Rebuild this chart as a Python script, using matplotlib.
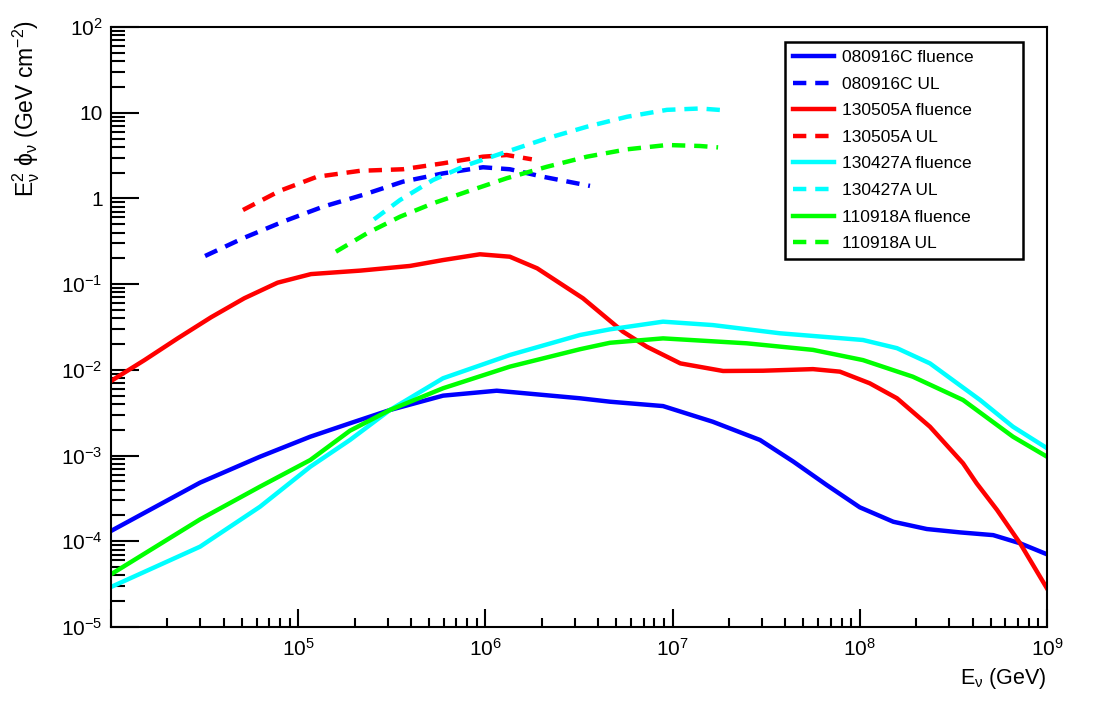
import math
import matplotlib
matplotlib.use("Agg")
import matplotlib.pyplot as plt
from matplotlib.ticker import LogLocator, FuncFormatter, NullFormatter

plt.rcParams['font.family'] = ['Liberation Sans', 'DejaVu Sans']
plt.rcParams['mathtext.fontset'] = 'custom'
plt.rcParams['mathtext.rm'] = 'Liberation Sans'
plt.rcParams['mathtext.it'] = 'Liberation Sans'
plt.rcParams['mathtext.default'] = 'regular'

# 080916C
e_080916c = [1.0e4, 2.99e4, 6.25e4, 1.16e5, 1.89e5, 3.09e5, 5.94e5, 1.15e6, 3.20e6, 4.63e6, 8.89e6,
             1.64e7, 2.93e7, 4.42e7, 6.65e7, 1.0e8, 1.51e8, 2.28e8, 3.43e8, 5.16e8, 7.18e8, 1.0e9]
f_080916c = [1.32e-4, 4.83e-4, 9.70e-4, 1.66e-3, 2.38e-3, 3.40e-3, 5.00e-3, 5.71e-3, 4.66e-3, 4.25e-3, 3.78e-3,
             2.48e-3, 1.52e-3, 8.49e-4, 4.54e-4, 2.49e-4, 1.69e-4, 1.39e-4, 1.27e-4, 1.18e-4, 9.48e-5, 7.05e-5]
e_080916c_ul = [3.18e4, 5.07e4, 8.30e4, 1.36e5, 2.22e5, 3.63e5, 5.94e5, 9.70e5, 1.35e6, 2.03e6, 3.62e6]
u_080916c = [0.213, 0.343, 0.536, 0.802, 1.10, 1.57, 1.96, 2.31, 2.19, 1.79, 1.40]

# 130505A
e_130505a = [1.0e4, 1.51e4, 2.27e4, 3.42e4, 5.15e4, 7.76e4, 1.17e5, 2.16e5, 3.95e5, 5.94e5, 9.35e5, 1.35e6,
             1.89e6, 3.32e6, 5.43e6, 7.29e6, 1.10e7, 1.86e7, 3.04e7, 5.62e7, 7.83e7, 1.13e8,
             1.58e8, 2.37e8, 3.56e8, 4.21e8, 5.41e8, 7.18e8, 1.0e9]
f_130505a = [7.41e-3, 1.30e-2, 2.33e-2, 4.10e-2, 6.84e-2, 0.104, 0.131, 0.144, 0.163, 0.191, 0.223, 0.209,
             0.153, 6.84e-2, 2.79e-2, 1.86e-2, 1.19e-2, 9.70e-3, 9.77e-3, 1.02e-2, 9.53e-3, 6.97e-3,
             4.66e-3, 2.17e-3, 8.13e-4, 4.74e-4, 2.32e-4, 9.48e-5, 2.82e-5]
e_130505a_ul = [5.07e4, 8.00e4, 1.26e5, 2.14e5, 3.63e5, 5.94e5, 9.70e5, 1.30e6, 1.77e6]
u_130505a = [0.733, 1.23, 1.79, 2.10, 2.19, 2.57, 3.07, 3.21, 2.86]

# 130427A
e_130427a = [1.0e4, 2.99e4, 6.25e4, 1.16e5, 1.89e5, 3.09e5, 5.94e5, 1.35e6, 3.20e6, 4.63e6, 8.89e6,
             1.64e7, 3.75e7, 1.04e8, 1.58e8, 2.37e8, 4.39e8, 6.58e8, 1.0e9]
f_130427a = [2.93e-5, 8.65e-5, 2.53e-4, 7.41e-4, 1.52e-3, 3.40e-3, 7.98e-3, 1.49e-2, 2.55e-2, 2.97e-2, 3.65e-2,
             3.33e-2, 2.67e-2, 2.23e-2, 1.79e-2, 1.19e-2, 4.45e-3, 2.17e-3, 1.22e-3]
e_130427a_ul = [2.54e5, 3.50e5, 5.25e5, 7.98e5, 1.30e6, 2.13e6, 3.49e6, 5.71e6, 9.33e6, 1.40e7, 1.98e7]
u_130427a = [0.570, 0.959, 1.64, 2.45, 3.51, 5.02, 6.87, 8.97, 10.8, 11.2, 10.6]

# 110918A
e_110918a = [1.0e4, 2.99e4, 6.25e4, 1.16e5, 1.89e5, 3.09e5, 5.94e5, 1.35e6, 3.20e6, 4.63e6, 8.89e6,
             2.49e7, 5.62e7, 1.04e8, 1.92e8, 3.56e8, 6.58e8, 1.0e9]
f_110918a = [4.12e-5, 1.80e-4, 4.34e-4, 8.87e-4, 1.95e-3, 3.40e-3, 6.10e-3, 1.09e-2, 1.74e-2, 2.07e-2, 2.33e-2,
             2.04e-2, 1.71e-2, 1.30e-2, 8.32e-3, 4.45e-3, 1.66e-3, 9.70e-4]
e_110918a_ul = [1.59e5, 2.33e5, 3.50e5, 5.25e5, 7.98e5, 1.30e6, 2.13e6, 3.49e6, 5.71e6, 9.33e6, 1.40e7, 1.75e7]
u_110918a = [0.239, 0.392, 0.612, 0.877, 1.20, 1.72, 2.34, 3.07, 3.74, 4.20, 4.09, 3.94]

grbs = ['080916C', '130505A', '130427A', '110918A']
colors = ['#0000ff', '#ff0000', '#00ffff', '#00ff00']
fluence = [(e_080916c, f_080916c), (e_130505a, f_130505a), (e_130427a, f_130427a), (e_110918a, f_110918a)]
upper = [(e_080916c_ul, u_080916c), (e_130505a_ul, u_130505a), (e_130427a_ul, u_130427a), (e_110918a_ul, u_110918a)]

fig = plt.figure(figsize=(11.02, 7.28), dpi=100)
ax = fig.add_axes([111 / 1102, 1 - 627 / 728, 936 / 1102, 600 / 728])

for name, c, (e, f), (eu, u) in zip(grbs, colors, fluence, upper):
    ax.plot(e, f, color=c, lw=3.2, solid_joinstyle='round', label=name + ' fluence')
    ax.plot(eu, u, color=c, lw=3.2, dashes=(3, 2), dash_capstyle='butt', label=name + ' UL')

ax.set_xscale('log')
ax.set_yscale('log')
ax.set_xlim(1e4, 1e9)
ax.set_ylim(1e-5, 1e2)


def root_fmt(v, pos):
    n = int(round(math.log10(v)))
    if n == 0:
        return '1'
    if n == 1:
        return '10'
    return '$10^{%d}$' % n


def x_fmt(v, pos):
    if v < 1.5e4:
        return ''
    return root_fmt(v, pos)


ax.xaxis.set_major_locator(LogLocator(base=10, numticks=20))
ax.yaxis.set_major_locator(LogLocator(base=10, numticks=20))
ax.xaxis.set_minor_locator(LogLocator(base=10, subs=range(2, 10), numticks=20))
ax.yaxis.set_minor_locator(LogLocator(base=10, subs=range(2, 10), numticks=20))
ax.xaxis.set_major_formatter(FuncFormatter(x_fmt))
ax.yaxis.set_major_formatter(FuncFormatter(root_fmt))
ax.xaxis.set_minor_formatter(NullFormatter())
ax.yaxis.set_minor_formatter(NullFormatter())

ax.tick_params(axis='both', which='both', direction='in', width=1.5, labelsize=15)
ax.tick_params(axis='y', which='major', length=20, pad=6)
ax.tick_params(axis='y', which='minor', length=10)
ax.tick_params(axis='x', which='major', length=13, pad=8)
ax.tick_params(axis='x', which='minor', length=6.5)
for s in ax.spines.values():
    s.set_linewidth(1.5)

ax.set_xlabel(r'E$_{\nu}$ (GeV)', fontsize=15.5, loc='right', labelpad=4)
ax.set_ylabel(r'E$_{\nu}^{2}$ $\phi_{\nu}$ (GeV cm$^{-2}$)', fontsize=16.5, loc='top', labelpad=14)
ax.yaxis.label.set_y(1.012)

leg = ax.legend(loc='upper left', bbox_to_anchor=(0.720, 0.60, 0.254, 0.375), mode='expand',
                borderaxespad=0, fontsize=12.5, frameon=True, fancybox=False,
                edgecolor='black', framealpha=1, handlelength=2.4, handletextpad=0.45,
                labelspacing=0.66, borderpad=0.45)
leg.get_frame().set_linewidth(1.8)

fig.savefig('out.png', dpi=100)
